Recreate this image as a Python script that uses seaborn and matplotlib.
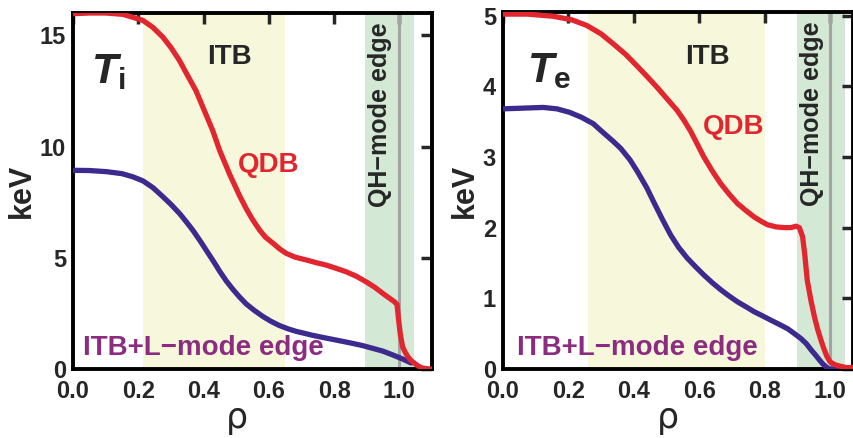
import numpy as np
import pandas as pd
import matplotlib
matplotlib.use("Agg")
import matplotlib.pyplot as plt
import seaborn as sns
from matplotlib import font_manager

# ---------------- data ----------------
rho_ti_qdb = [0.0, 0.05, 0.1, 0.153, 0.214, 0.245, 0.275, 0.30, 0.326, 0.35, 0.377, 0.40,
              0.428, 0.45, 0.48, 0.51, 0.531, 0.55, 0.572, 0.59, 0.613, 0.633, 0.653, 0.68,
              0.715, 0.745, 0.776, 0.805, 0.837, 0.868, 0.898, 0.925, 0.949, 0.97, 0.985,
              0.993, 0.997, 1.003, 1.01, 1.018, 1.026, 1.036, 1.046, 1.058, 1.071, 1.085, 1.1]
ti_qdb = [15.97, 16.0, 16.0, 15.94, 15.67, 15.35, 14.92, 14.45, 13.87, 13.22, 12.5, 11.7,
          10.72, 9.8, 8.75, 7.8, 7.2, 6.72, 6.24, 5.92, 5.65, 5.4, 5.2, 5.03,
          4.9, 4.78, 4.67, 4.53, 4.37, 4.17, 3.92, 3.67, 3.4, 3.18, 3.02,
          2.9, 2.3, 1.55, 1.0, 0.75, 0.55, 0.38, 0.26, 0.13, 0.04, 0.01, 0.0]
rho_ti_itb = [0.0, 0.05, 0.102, 0.15, 0.183, 0.215, 0.245, 0.275, 0.30, 0.327, 0.348, 0.368,
              0.39, 0.409, 0.43, 0.45, 0.47, 0.49, 0.51, 0.531, 0.555, 0.582, 0.607, 0.633,
              0.66, 0.684, 0.71, 0.735, 0.765, 0.796, 0.827, 0.857, 0.888, 0.918, 0.95, 0.98,
              1.01, 1.036]
ti_itb = [8.93, 8.92, 8.87, 8.78, 8.64, 8.45, 8.15, 7.75, 7.4, 6.98, 6.6, 6.22,
          5.75, 5.32, 4.85, 4.38, 3.95, 3.58, 3.24, 2.92, 2.64, 2.36, 2.14, 1.95,
          1.8, 1.69, 1.6, 1.51, 1.42, 1.33, 1.24, 1.15, 1.05, 0.93, 0.8, 0.63,
          0.45, 0.27]

rho_te_qdb = [0.0, 0.075, 0.153, 0.21, 0.256, 0.30, 0.337, 0.375, 0.409, 0.44, 0.47, 0.50,
              0.532, 0.553, 0.574, 0.594, 0.614, 0.64, 0.666, 0.692, 0.717, 0.743, 0.768,
              0.789, 0.809, 0.835, 0.86, 0.88, 0.896, 0.906, 0.916, 0.923, 0.93, 0.941,
              0.952, 0.962, 0.972, 0.98, 0.99, 1.0, 1.015, 1.03, 1.05, 1.07]
te_qdb = [5.02, 5.02, 4.99, 4.94, 4.86, 4.74, 4.6, 4.45, 4.29, 4.14, 3.99, 3.83,
          3.66, 3.52, 3.36, 3.18, 3.0, 2.8, 2.62, 2.47, 2.34, 2.24, 2.15,
          2.09, 2.04, 2.01, 2.0, 2.0, 2.02, 2.0, 1.87, 1.6, 1.26, 0.98,
          0.74, 0.56, 0.41, 0.3, 0.18, 0.1, 0.06, 0.04, 0.02, 0.02]
rho_te_itb = [0.0, 0.06, 0.123, 0.165, 0.204, 0.24, 0.276, 0.30, 0.337, 0.36, 0.388, 0.41,
              0.44, 0.461, 0.487, 0.512, 0.537, 0.563, 0.59, 0.614, 0.64, 0.666, 0.692,
              0.717, 0.743, 0.768, 0.794, 0.819, 0.845, 0.87, 0.891, 0.911, 0.927, 0.942,
              0.955, 0.967, 0.978, 0.988, 0.995, 1.01, 1.04, 1.07]
te_itb = [3.68, 3.69, 3.70, 3.68, 3.63, 3.56, 3.47, 3.37, 3.22, 3.12, 2.96, 2.8,
          2.56, 2.36, 2.12, 1.9, 1.72, 1.57, 1.44, 1.33, 1.22, 1.12, 1.03,
          0.95, 0.88, 0.81, 0.75, 0.69, 0.63, 0.57, 0.5, 0.43, 0.36, 0.27,
          0.2, 0.13, 0.07, 0.03, 0.0, 0.0, 0.0, 0.0]

itb_band_ti = (0.215, 0.65)
itb_band_te = (0.26, 0.80)
qh_band_ti = (0.895, 1.045)
qh_band_te = (0.90, 1.045)
separatrix = 1.0

xticks = [0.0, 0.2, 0.4, 0.6, 0.8, 1.0]
yticks_ti = [0, 5, 10, 15]
yticks_te = [0, 1, 2, 3, 4, 5]

# ---------------- style ----------------
sns.set_style("white")
avail = {f.name for f in font_manager.fontManager.ttflist}
fam = [f for f in ["Liberation Sans Narrow", "Liberation Sans", "DejaVu Sans"] if f in avail]
plt.rcParams["font.family"] = fam
plt.rcParams["font.weight"] = "bold"
plt.rcParams["mathtext.fontset"] = "custom"
plt.rcParams["mathtext.it"] = fam[0] + ":italic:bold"
plt.rcParams["mathtext.rm"] = fam[0] + ":bold"

RED = "#E1262F"
BLUE = "#3C2A8E"
PURPLE = "#8C2C80"
YELLOW = "#F7F7DB"
GREEN = "#D3E9D6"
GRAY = "#A3A3A3"

fig = plt.figure(figsize=(8.54, 4.38), dpi=100)
axL = fig.add_axes([73/854, 69/438, 359/854, 356/438])
axR = fig.add_axes([503/854, 69/438, 350/854, 357/438])


def panel(ax, rq, yq, ri, yi, itb, qh, xlim, ylim, yticks, sub, T_xy,
          itb_xy, qdb_xy, lab_xy, qh_x, rho_xy):
    ax.axvspan(*itb, color=YELLOW, lw=0, zorder=0)
    ax.axvspan(*qh, color=GREEN, lw=0, zorder=0)
    ax.axvline(separatrix, color=GRAY, lw=2.2, zorder=1)
    dq = pd.DataFrame({"rho": rq, "T": yq})
    di = pd.DataFrame({"rho": ri, "T": yi})
    sns.lineplot(data=di, x="rho", y="T", ax=ax, color=BLUE, lw=3.8, zorder=3,
                 solid_joinstyle="round", solid_capstyle="round")
    sns.lineplot(data=dq, x="rho", y="T", ax=ax, color=RED, lw=3.8, zorder=4,
                 solid_joinstyle="round", solid_capstyle="butt")
    ax.set_xlim(*xlim)
    ax.set_ylim(*ylim)
    ax.set_xticks(xticks)
    ax.set_xticklabels([f"{v:.1f}" for v in xticks])
    ax.set_yticks(yticks)
    ax.set_yticklabels([str(v) for v in yticks])
    ax.tick_params(direction="in", length=8, width=2.5, top=True, right=True,
                   labelsize=17)
    ax.tick_params(axis="x", pad=8)
    ax.tick_params(axis="y", pad=5)
    for lab in ax.get_xticklabels() + ax.get_yticklabels():
        lab.set_fontweight("bold")
    for s in ax.spines.values():
        s.set_linewidth(2.8)
        s.set_color("black")
    ax.set_xlabel("ρ", fontsize=25, fontweight="normal", family="DejaVu Sans",
                  va="top", ha="center")
    ax.xaxis.set_label_coords(*rho_xy)
    ax.set_ylabel("keV", fontsize=22, labelpad=2, fontweight="bold")
    ax.text(*itb_xy, "ITB", fontsize=20, fontweight="bold", ha="center", va="center",
            transform=ax.transAxes)
    ax.text(*qdb_xy, "QDB", fontsize=20, fontweight="bold", color=RED, ha="center",
            va="center", transform=ax.transAxes)
    ax.text(*lab_xy, "ITB+L\u2212mode edge", fontsize=20, fontweight="bold", color=PURPLE,
            ha="left", va="center", transform=ax.transAxes)
    ax.text(qh_x, 0.975, "QH\u2212mode edge", fontsize=18, fontweight="bold",
            rotation=90, ha="center", va="top", transform=ax.get_xaxis_transform())
    ax.text(*T_xy, r"$T_{\mathrm{" + sub + r"}}$", fontsize=31, ha="left", va="center",
            transform=ax.transAxes)


panel(axL, rho_ti_qdb, ti_qdb, rho_ti_itb, ti_itb, itb_band_ti, qh_band_ti,
      (0, 1.1), (0, 16), yticks_ti, "i", (0.05, 0.835),
      (0.437, 0.876), (0.546, 0.573), (0.028, 0.06), 0.94, (0.457, -0.09))
panel(axR, rho_te_qdb, te_qdb, rho_te_itb, te_itb, itb_band_te, qh_band_te,
      (0, 1.07), (0, 5.05), yticks_te, "e", (0.068, 0.835),
      (0.583, 0.874), (0.66, 0.678), (0.04, 0.059), 0.945, (0.471, -0.09))

fig.savefig("out.png", dpi=100)
